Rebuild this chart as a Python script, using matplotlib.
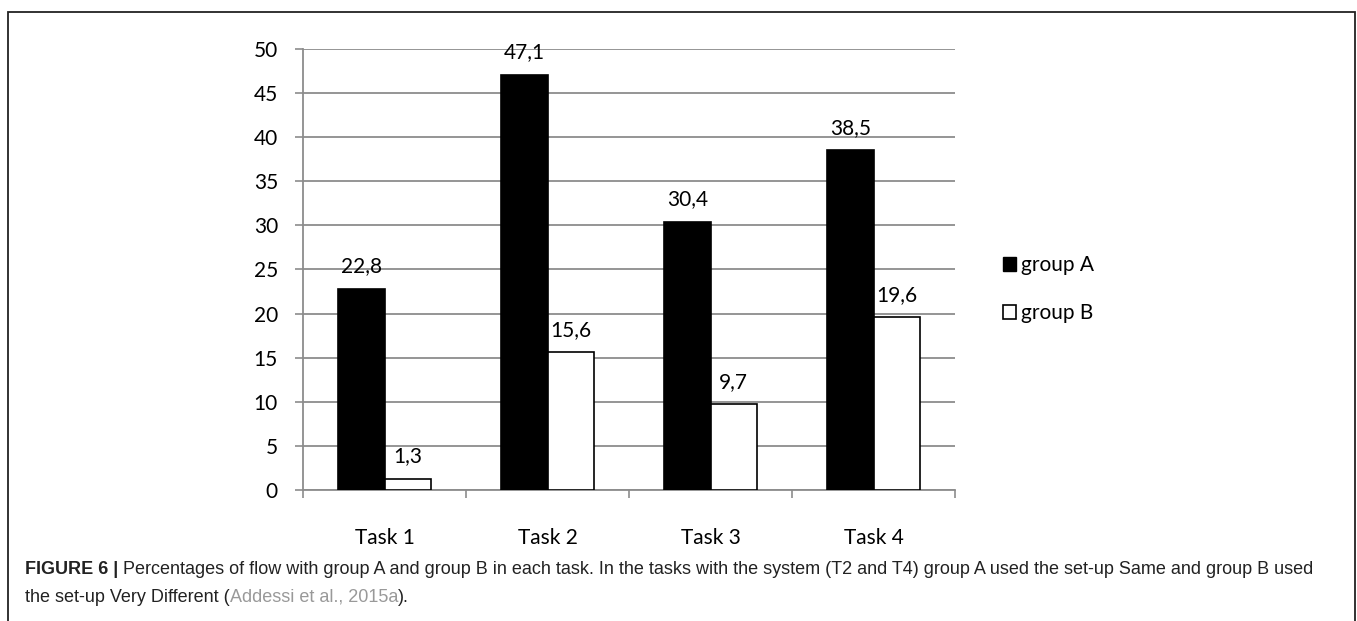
import numpy as np
import matplotlib
matplotlib.use("Agg")
import matplotlib.pyplot as plt
from matplotlib.patches import Patch, Rectangle

tasks = ["Task 1", "Task 2", "Task 3", "Task 4"]
group_a = [22.8, 47.1, 30.4, 38.5]
group_b = [1.3, 15.6, 9.7, 19.6]
series_names = ["group A", "group B"]
yticks = [0, 5, 10, 15, 20, 25, 30, 35, 40, 45, 50]

plt.rcParams['font.family'] = ['Lato', 'DejaVu Sans']

fig = plt.figure(figsize=(13.57, 6.21), dpi=100)
ax = fig.add_axes([303/1357, 1-490/621, 652/1357, 441/621])

x = np.arange(len(tasks))
w = 0.285
gray = '#8c8c8c'

ax.bar(x - w/2, group_a, w, color='black', edgecolor='black', lw=1.2, zorder=3)
ax.bar(x + w/2, group_b, w, color='white', edgecolor='black', lw=1.2, zorder=3)

for xi, v in zip(x - w/2, group_a):
    ax.annotate(f"{v}".replace('.', ','), (xi, v), xytext=(0, 9), textcoords='offset points',
                ha='center', va='bottom', fontsize=15)
for xi, v in zip(x + w/2, group_b):
    ax.annotate(f"{v}".replace('.', ','), (xi, v), xytext=(0, 9), textcoords='offset points',
                ha='center', va='bottom', fontsize=15)

ax.set_xlim(-0.5, len(tasks) - 0.5)
ax.set_ylim(0, 50)
ax.set_yticks(yticks)
ax.set_yticklabels([str(t) for t in yticks], fontsize=15)
ax.yaxis.grid(True, color=gray, lw=1.3, zorder=0)
ax.set_axisbelow(True)

ax.set_xticks(np.arange(len(tasks) + 1) - 0.5)
ax.set_xticklabels([])
ax.set_xticks(x, minor=True)
ax.set_xticklabels(tasks, minor=True, fontsize=15)
ax.tick_params(axis='x', which='major', length=6, color=gray, width=1.2, direction='out')
ax.tick_params(axis='x', which='minor', length=0, pad=27)
ax.tick_params(axis='y', length=6, color=gray, width=1.2, pad=12)

for s in ['top', 'right']:
    ax.spines[s].set_visible(False)
for s in ['left', 'bottom']:
    ax.spines[s].set_color(gray)
    ax.spines[s].set_linewidth(1.3)

handles = [Patch(facecolor='black', edgecolor='black'),
           Patch(facecolor='white', edgecolor='black', lw=1.2)]
ax.legend(handles, series_names, loc='center left', bbox_to_anchor=(1.045, 0.455),
          frameon=False, fontsize=15, handlelength=0.62, handleheight=0.62,
          handletextpad=0.25, labelspacing=1.35)

# outer frame
fig.patches.append(Rectangle((8/1357, -0.05), 1347/1357, 1.05 - 12/621,
                             transform=fig.transFigure, fill=False,
                             edgecolor='#222222', lw=1.3))

# caption with mixed styles
renderer = fig.canvas.get_renderer()
cap_font = ['Liberation Sans', 'DejaVu Sans']
cap_size = 13

def put_line(pieces, x0, y0):
    xp = x0
    for txt, weight, color in pieces:
        t = fig.text(xp, y0, txt, fontsize=cap_size, fontweight=weight, color=color,
                     family=cap_font, ha='left', va='baseline')
        bb = t.get_window_extent(renderer=renderer)
        xp += bb.width / fig.bbox.width

put_line([("FIGURE 6 |", 'bold', '#222222'),
          (" Percentages of flow with group A and group B in each task. In the tasks with the system (T2 and T4) group A used the set-up Same and group B used",
           'normal', '#222222')], 25/1357, 1-574/621)
put_line([("the set-up Very Different (", 'normal', '#222222'),
          ("Addessi et al., 2015a", 'normal', '#999999'),
          (").", 'normal', '#222222')], 25/1357, 1-602/621)

fig.savefig('out.png', dpi=100)
